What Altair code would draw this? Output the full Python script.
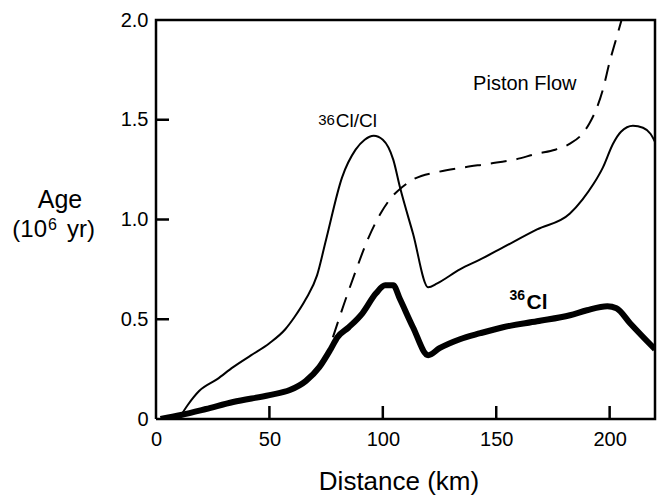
import altair as alt
import pandas as pd

# ---- data ----
ratio_x = [10, 14, 19, 27, 34, 42, 50, 57, 61, 66, 71, 75, 82, 88, 92, 96, 100, 104.6, 107.6, 113.3, 120, 124, 134, 143, 153, 168, 182.5, 188, 193, 197, 201.5, 205, 210.3, 214.7, 218, 220]
ratio_y = [0.0, 0.07, 0.14, 0.20, 0.26, 0.32, 0.38, 0.45, 0.51, 0.60, 0.72, 0.90, 1.21, 1.35, 1.40, 1.42, 1.40, 1.30, 1.16, 0.93, 0.66, 0.68, 0.75, 0.80, 0.86, 0.95, 1.03, 1.10, 1.18, 1.26, 1.38, 1.44, 1.47, 1.46, 1.43, 1.39]

cl_x = [2, 11, 22, 34, 50, 59, 66, 72, 77, 80, 85, 91, 97, 101, 104.6, 107.6, 113.3, 120, 125, 134, 143, 153, 168, 182.5, 190, 199, 203, 209, 214, 220]
cl_y = [0.0, 0.02, 0.05, 0.085, 0.12, 0.145, 0.19, 0.26, 0.35, 0.41, 0.46, 0.53, 0.63, 0.67, 0.67, 0.60, 0.46, 0.32, 0.355, 0.40, 0.43, 0.46, 0.49, 0.52, 0.545, 0.565, 0.555, 0.48, 0.42, 0.35]

piston_x = [78, 83, 88, 93, 99, 104.5, 108.3, 113.3, 125, 135, 147, 158, 168, 176, 182.5, 188, 191, 194, 197, 200, 203, 206]
piston_y = [0.41, 0.58, 0.74, 0.89, 1.03, 1.12, 1.16, 1.20, 1.24, 1.26, 1.28, 1.30, 1.33, 1.35, 1.38, 1.43, 1.48, 1.55, 1.65, 1.79, 1.91, 2.03]

x_label_values = [0, 50, 100, 150, 200]
y_label_values = [0, 0.5, 1.0, 1.5, 2.0]
x_tick_values = [50, 100, 150, 200]
y_tick_values = [0.5, 1.0, 1.5]
frame_x = [0, 220, 220, 0, 0]
frame_y = [0, 0, 2, 2, 0]
frame_order = [0, 1, 2, 3, 4]

# ---- layout ----
W, H = 499, 399
FONT = "Liberation Sans"
TICK = 13

xs = alt.Scale(domain=[0, 220], nice=False, zero=False)
ys = alt.Scale(domain=[0, 2], nice=False, zero=False)

x_axis = alt.Axis(values=x_label_values, ticks=False, domain=False, grid=False,
                  labelFont=FONT, labelFontSize=20, labelColor="black",
                  labelPadding=10, labelFlush=False, title=None)
y_axis = alt.Axis(values=y_label_values, ticks=False, domain=False, grid=False,
                  labelExpr="datum.value == 0 ? '0' : format(datum.value, '.1f')",
                  labelFont=FONT, labelFontSize=20, labelColor="black",
                  labelPadding=8, labelFlush=False, title=None)


def X(field):
    return alt.X(f"{field}:Q", scale=xs, axis=x_axis)


def Y(field):
    return alt.Y(f"{field}:Q", scale=ys, axis=y_axis)


def curve(xv, yv, width, dash=None):
    kw = dict(color="black", strokeWidth=width, interpolate="monotone", clip=True,
              strokeCap="butt", strokeJoin="round")
    if dash:
        kw["strokeDash"] = dash
    df = pd.DataFrame({"x": xv, "y": yv})
    return alt.Chart(df).mark_line(**kw).encode(x=X("x"), y=Y("y"))


ratio_line = curve(ratio_x, ratio_y, 2)
cl_line = curve(cl_x, cl_y, 6)
piston_line = curve(piston_x, piston_y, 2, dash=[16, 10])

# box around the plot area, drawn as a closed line through the corners
frame = alt.Chart(pd.DataFrame({"x": frame_x, "y": frame_y, "o": frame_order})).mark_line(
    color="black", strokeWidth=2.5, strokeJoin="miter", interpolate="linear").encode(
    x=X("x"), y=Y("y"), order="o:Q")

x_ticks = alt.Chart(pd.DataFrame({"t": x_tick_values})).mark_rule(
    color="black", strokeWidth=2.5).encode(
    x=X("t"), y=alt.value(H), y2=alt.value(H - TICK))
y_ticks = alt.Chart(pd.DataFrame({"t": y_tick_values})).mark_rule(
    color="black", strokeWidth=2.5).encode(
    y=Y("t"), x=alt.value(0), x2=alt.value(TICK))


def label(text, x, y, size, align="left", weight="normal"):
    df = pd.DataFrame({"x": [x], "y": [y]})
    return alt.Chart(df).mark_text(
        text=text, font=FONT, fontSize=size, fontWeight=weight, color="black",
        align=align, baseline="alphabetic").encode(x=X("x"), y=Y("y"))


def px_text(text, x, y, size, align="left"):
    df = pd.DataFrame({"a": [0]})
    return alt.Chart(df).mark_text(
        text=text, font=FONT, fontSize=size, color="black",
        align=align, baseline="alphabetic").encode(x=alt.value(x), y=alt.value(y))


labels = [
    label("36", 78.9, 1.474, 15, align="right"),
    label("Cl/Cl", 79.3, 1.464, 19),
    label("Piston Flow", 139.8, 1.649, 20),
    label("36", 162.7, 0.596, 14, align="right", weight="bold"),
    label("Cl", 163.4, 0.551, 21, weight="bold"),
]

titles = [
    px_text("Age", -96, 188, 25, align="center"),
    px_text("(10", -109, 217, 24, align="right"),
    px_text("6", -108, 210, 16),
    px_text("yr)", -89, 217, 24),
    px_text("Distance (km)", 243, 470, 26, align="center"),
]

chart = alt.layer(
    ratio_line, piston_line, cl_line, frame, x_ticks, y_ticks, *labels, *titles
).properties(
    width=W, height=H,
    autosize=alt.AutoSizeParams(type="none"),
    padding={"left": 156, "top": 20, "right": 3, "bottom": 77},
)

chart.save("out.html", embed_options={"renderer": "svg", "actions": False})
